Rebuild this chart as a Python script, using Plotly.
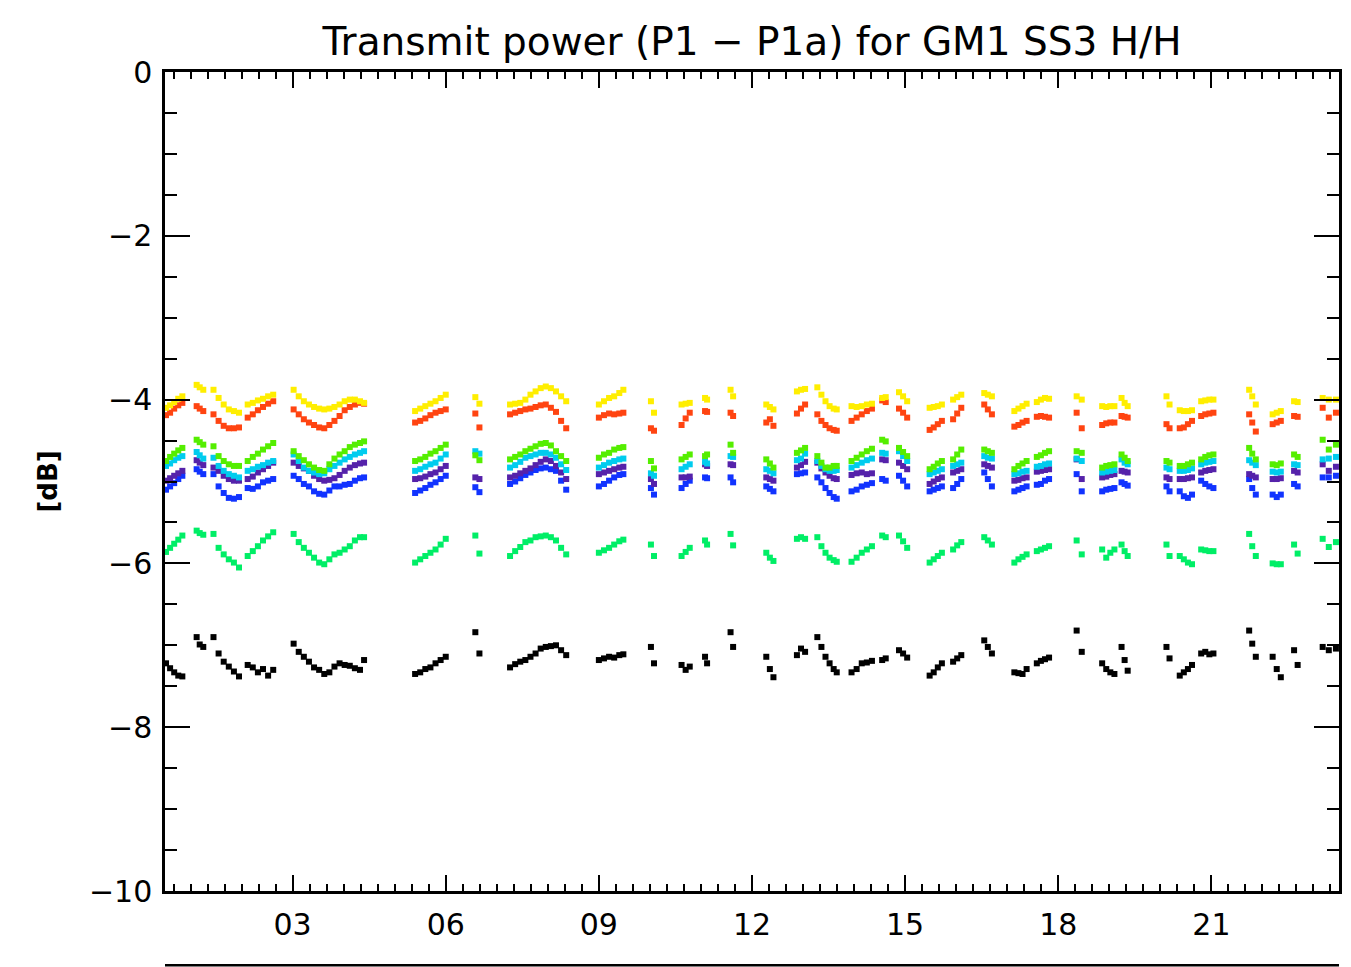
import plotly.graph_objects as go

# Time of each sample (hours of the day), grouped by pass
hours = [
    0.52, 0.60, 0.68, 0.76, 0.84,
    1.12, 1.18, 1.25,
    1.45, 1.55, 1.65, 1.75, 1.85, 1.95,
    2.12, 2.22, 2.32, 2.42, 2.52, 2.62,
    3.02, 3.12, 3.22, 3.32, 3.42, 3.52, 3.62, 3.72, 3.82, 3.92, 4.02, 4.12, 4.22, 4.32, 4.40,
    5.40, 5.50, 5.60, 5.70, 5.80, 5.90, 6.00,
    6.58, 6.66,
    7.26, 7.36, 7.46, 7.56, 7.66, 7.76, 7.86, 7.96, 8.06, 8.16, 8.26, 8.36,
    9.00, 9.10, 9.20, 9.30, 9.40, 9.48,
    10.02, 10.08,
    10.62, 10.70, 10.78,
    11.08, 11.12,
    11.58, 11.63,
    12.28, 12.35, 12.42,
    12.88, 12.96, 13.04, 13.28, 13.36, 13.44, 13.52, 13.60, 13.66,
    13.95, 14.05, 14.15, 14.25, 14.35,
    14.55, 14.62, 14.88, 14.96, 15.04,
    15.48, 15.56, 15.64, 15.72,
    15.94, 16.02, 16.10,
    16.55, 16.62, 16.70,
    17.14, 17.22, 17.30, 17.38, 17.58, 17.66, 17.74, 17.82,
    18.36, 18.46,
    18.86, 18.94, 19.02, 19.10, 19.24, 19.30, 19.36,
    20.12, 20.18, 20.38, 20.46, 20.54, 20.62, 20.80, 20.88, 20.96, 21.04,
    21.74, 21.80, 21.87,
    22.20, 22.28, 22.36,
    22.62, 22.69,
    23.18, 23.30, 23.44,
]

yellow = [
    -4.10, -4.07, -4.03, -3.99, -3.96,
    -3.82, -3.85, -3.88,
    -3.88, -3.98, -4.06, -4.12, -4.14, -4.16,
    -4.06, -4.04, -4.01, -3.99, -3.96, -3.94,
    -3.88, -3.96, -4.02, -4.06, -4.09, -4.11, -4.12, -4.11, -4.09, -4.06, -4.02, -4.00, -4.00, -4.02, -4.04,
    -4.14, -4.11, -4.08, -4.05, -4.02, -3.98, -3.94,
    -3.97, -4.05,
    -4.06, -4.05, -4.04, -4.00, -3.94, -3.90, -3.86, -3.84, -3.86, -3.90, -3.96, -4.02,
    -4.06, -4.02, -3.98, -3.96, -3.92, -3.88,
    -4.02, -4.16,
    -4.06, -4.05, -4.04,
    -3.98, -4.00,
    -3.88, -3.96,
    -4.06, -4.09, -4.12,
    -3.90, -3.88, -3.87, -3.85, -3.94, -4.02, -4.08, -4.11, -4.12,
    -4.08, -4.09, -4.08, -4.06, -4.05,
    -3.98, -3.97, -3.91, -3.96, -4.02,
    -4.10, -4.09, -4.08, -4.06,
    -4.00, -3.97, -3.94,
    -3.92, -3.94, -3.96,
    -4.14, -4.11, -4.08, -4.05, -4.03, -4.00, -3.98, -3.99,
    -3.96, -4.00,
    -4.08, -4.09, -4.08, -4.08, -3.98, -4.04, -4.08,
    -3.96, -4.06, -4.13, -4.14, -4.14, -4.13, -4.02, -4.01, -4.00, -4.00,
    -3.88, -3.96, -4.06,
    -4.18, -4.16, -4.14,
    -4.02, -4.03,
    -3.98, -4.00, -4.00,
]

orange = [
    -4.19, -4.16, -4.11, -4.07, -4.04,
    -4.08, -4.11, -4.14,
    -4.18, -4.26, -4.32, -4.35, -4.35, -4.34,
    -4.22, -4.18, -4.13, -4.09, -4.05, -4.02,
    -4.12, -4.18, -4.24, -4.28, -4.31, -4.34, -4.35, -4.31, -4.26, -4.20, -4.13, -4.09, -4.06, -4.04, -4.05,
    -4.28, -4.26, -4.23, -4.19, -4.16, -4.14, -4.12,
    -4.17, -4.34,
    -4.18, -4.16, -4.14, -4.12, -4.11, -4.09, -4.07, -4.06, -4.10, -4.15, -4.26, -4.35,
    -4.22, -4.19, -4.17, -4.18, -4.17, -4.16,
    -4.35, -4.38,
    -4.31, -4.23, -4.16,
    -4.14, -4.15,
    -4.16, -4.20,
    -4.28, -4.24, -4.32,
    -4.17, -4.11, -4.06, -4.18, -4.26, -4.31, -4.35, -4.37, -4.38,
    -4.26, -4.22, -4.18, -4.14, -4.11,
    -4.01, -4.03, -4.11, -4.16, -4.22,
    -4.37, -4.34, -4.30, -4.26,
    -4.24, -4.17, -4.10,
    -4.06, -4.12, -4.18,
    -4.33, -4.31, -4.28, -4.26, -4.21, -4.20, -4.21, -4.22,
    -4.16, -4.35,
    -4.31, -4.29, -4.28, -4.28, -4.20, -4.21, -4.22,
    -4.30, -4.35, -4.35, -4.34, -4.30, -4.26, -4.20, -4.18, -4.17, -4.16,
    -4.18, -4.28, -4.39,
    -4.30, -4.28, -4.26,
    -4.20, -4.21,
    -4.10, -4.22, -4.16,
]

lime = [
    -4.75, -4.70, -4.66, -4.62, -4.59,
    -4.49, -4.52, -4.55,
    -4.57, -4.69, -4.75, -4.79, -4.81, -4.81,
    -4.75, -4.70, -4.66, -4.61, -4.57, -4.53,
    -4.63, -4.69, -4.74, -4.79, -4.83, -4.86, -4.87, -4.79, -4.72, -4.67, -4.63, -4.58, -4.55, -4.53, -4.51,
    -4.75, -4.73, -4.70, -4.66, -4.63, -4.59, -4.55,
    -4.68, -4.74,
    -4.73, -4.70, -4.67, -4.63, -4.60, -4.57, -4.54, -4.53, -4.56, -4.63, -4.69, -4.75,
    -4.71, -4.67, -4.65, -4.61, -4.59, -4.58,
    -4.75, -4.84,
    -4.73, -4.70, -4.67,
    -4.69, -4.67,
    -4.55, -4.65,
    -4.73, -4.78, -4.83,
    -4.65, -4.62, -4.59, -4.69, -4.77, -4.83, -4.83, -4.81, -4.81,
    -4.75, -4.71, -4.67, -4.63, -4.60,
    -4.49, -4.51, -4.59, -4.64, -4.69,
    -4.85, -4.82, -4.78, -4.75,
    -4.73, -4.67, -4.61,
    -4.61, -4.63, -4.65,
    -4.85, -4.81, -4.78, -4.75, -4.70, -4.68, -4.65, -4.63,
    -4.63, -4.65,
    -4.83, -4.81, -4.80, -4.79, -4.67, -4.71, -4.75,
    -4.75, -4.77, -4.81, -4.81, -4.79, -4.77, -4.73, -4.70, -4.68, -4.67,
    -4.59, -4.66, -4.73,
    -4.79, -4.80, -4.78,
    -4.67, -4.70,
    -4.49, -4.61, -4.55,
]

cyan = [
    -4.81, -4.78, -4.74, -4.71, -4.69,
    -4.64, -4.68, -4.72,
    -4.71, -4.81, -4.87, -4.91, -4.93, -4.95,
    -4.87, -4.85, -4.82, -4.80, -4.77, -4.75,
    -4.67, -4.75, -4.83, -4.87, -4.89, -4.91, -4.90, -4.85, -4.81, -4.77, -4.73, -4.70, -4.67, -4.65, -4.63,
    -4.87, -4.85, -4.82, -4.79, -4.77, -4.72, -4.67,
    -4.63, -4.66,
    -4.83, -4.80, -4.76, -4.71, -4.69, -4.67, -4.65, -4.65, -4.67, -4.71, -4.79, -4.86,
    -4.83, -4.80, -4.77, -4.75, -4.73, -4.72,
    -4.90, -4.93,
    -4.85, -4.82, -4.79,
    -4.76, -4.78,
    -4.69, -4.70,
    -4.85, -4.87, -4.90,
    -4.74, -4.72, -4.66, -4.75, -4.81, -4.85, -4.87, -4.87, -4.86,
    -4.83, -4.80, -4.77, -4.74, -4.72,
    -4.65, -4.66, -4.63, -4.69, -4.75,
    -4.91, -4.89, -4.87, -4.85,
    -4.81, -4.79, -4.77,
    -4.69, -4.71, -4.72,
    -4.91, -4.90, -4.88, -4.87, -4.82, -4.81, -4.79, -4.78,
    -4.72, -4.75,
    -4.89, -4.88, -4.87, -4.86, -4.73, -4.77, -4.79,
    -4.83, -4.85, -4.87, -4.87, -4.86, -4.84, -4.79, -4.77, -4.76, -4.75,
    -4.74, -4.77, -4.80,
    -4.88, -4.89, -4.88,
    -4.79, -4.80,
    -4.73, -4.72, -4.70,
]

purple = [
    -4.99, -4.96, -4.93, -4.90, -4.87,
    -4.74, -4.77, -4.80,
    -4.83, -4.87, -4.93, -4.97, -4.99, -4.99,
    -4.97, -4.94, -4.89, -4.85, -4.81, -4.77,
    -4.77, -4.81, -4.84, -4.87, -4.93, -4.97, -4.99, -4.98, -4.96, -4.92, -4.87, -4.83, -4.80, -4.78, -4.77,
    -4.97, -4.96, -4.94, -4.91, -4.89, -4.85, -4.81,
    -4.95, -4.97,
    -4.95, -4.93, -4.90, -4.87, -4.84, -4.80, -4.76, -4.73, -4.75, -4.81, -4.89, -4.97,
    -4.91, -4.89, -4.87, -4.85, -4.83, -4.82,
    -4.97, -5.03,
    -4.95, -4.95, -4.94,
    -4.79, -4.81,
    -4.79, -4.80,
    -4.95, -4.97, -4.99,
    -4.83, -4.80, -4.76, -4.77, -4.84, -4.89, -4.93, -4.96, -4.97,
    -4.92, -4.90, -4.89, -4.91, -4.90,
    -4.73, -4.74, -4.77, -4.81, -4.85,
    -5.03, -5.00, -4.97, -4.95,
    -4.89, -4.87, -4.85,
    -4.79, -4.81, -4.83,
    -4.99, -4.98, -4.96, -4.95, -4.88, -4.87, -4.86, -4.85,
    -4.73, -4.97,
    -4.95, -4.94, -4.92, -4.91, -4.87, -4.88, -4.89,
    -4.95, -4.97, -4.97, -4.97, -4.96, -4.95, -4.89, -4.87, -4.86, -4.85,
    -4.91, -4.93, -4.95,
    -4.97, -4.97, -4.96,
    -4.87, -4.89,
    -4.79, -4.87, -4.82,
]

blue = [
    -5.10, -5.06, -5.02, -4.97, -4.93,
    -4.85, -4.88, -4.91,
    -4.91, -5.06, -5.14, -5.20, -5.21, -5.19,
    -5.08, -5.09, -5.06, -5.01, -4.99, -4.97,
    -4.93, -4.97, -5.03, -5.06, -5.12, -5.15, -5.16, -5.11, -5.06, -5.06, -5.04, -5.03, -4.99, -4.96, -4.95,
    -5.14, -5.11, -5.08, -5.04, -5.01, -4.97, -4.93,
    -5.07, -5.13,
    -5.03, -5.00, -4.96, -4.92, -4.89, -4.86, -4.84, -4.83, -4.85, -4.87, -4.99, -5.10,
    -5.06, -5.03, -4.99, -4.95, -4.92, -4.91,
    -5.08, -5.16,
    -5.08, -5.03, -4.99,
    -4.95, -4.96,
    -4.95, -5.01,
    -5.06, -5.09, -5.12,
    -4.91, -4.90, -4.89, -4.95, -5.01, -5.08, -5.14, -5.19, -5.21,
    -5.12, -5.10, -5.06, -5.04, -5.02,
    -4.97, -4.99, -4.93, -4.99, -5.06,
    -5.12, -5.10, -5.08, -5.06,
    -5.08, -5.03, -4.97,
    -4.89, -4.97, -5.06,
    -5.12, -5.10, -5.08, -5.06, -5.04, -5.03, -4.99, -4.97,
    -4.91, -5.12,
    -5.12, -5.10, -5.09, -5.08, -5.01, -5.03, -5.05,
    -5.06, -5.12, -5.12, -5.18, -5.20, -5.16, -4.99, -5.03, -5.06, -5.08,
    -4.97, -5.08, -5.16,
    -5.16, -5.19, -5.16,
    -5.03, -5.06,
    -4.95, -4.95, -4.93,
]

spring = [
    -5.86, -5.81, -5.76, -5.71, -5.66,
    -5.60, -5.63, -5.65,
    -5.64, -5.81, -5.89, -5.95, -5.99, -6.05,
    -5.91, -5.85, -5.79, -5.72, -5.67, -5.62,
    -5.64, -5.74, -5.81, -5.87, -5.93, -5.99, -6.01, -5.95, -5.89, -5.87, -5.83, -5.79, -5.72, -5.68, -5.68,
    -5.99, -5.95, -5.91, -5.87, -5.83, -5.77, -5.70,
    -5.66, -5.88,
    -5.91, -5.85, -5.80, -5.74, -5.72, -5.68, -5.67, -5.66, -5.68, -5.72, -5.81, -5.89,
    -5.87, -5.84, -5.81, -5.77, -5.73, -5.71,
    -5.77, -5.91,
    -5.91, -5.86, -5.81,
    -5.72, -5.77,
    -5.64, -5.78,
    -5.87, -5.93, -5.97,
    -5.70, -5.68, -5.70, -5.68, -5.79, -5.87, -5.93, -5.96, -5.98,
    -5.98, -5.93, -5.87, -5.83, -5.79,
    -5.66, -5.68, -5.66, -5.73, -5.81,
    -5.99, -5.95, -5.91, -5.87,
    -5.83, -5.78, -5.74,
    -5.68, -5.72, -5.77,
    -5.99, -5.95, -5.92, -5.89, -5.85, -5.83, -5.81, -5.79,
    -5.72, -5.89,
    -5.83, -5.93, -5.87, -5.83, -5.77, -5.85, -5.91,
    -5.77, -5.91, -5.91, -5.95, -5.99, -6.01, -5.83, -5.84, -5.85, -5.85,
    -5.64, -5.79, -5.91,
    -6.00, -6.01, -6.01,
    -5.77, -5.88,
    -5.70, -5.80, -5.74,
]

black = [
    -7.22, -7.28, -7.33, -7.37, -7.38,
    -6.90, -6.99, -7.02,
    -6.90, -7.10, -7.20, -7.26, -7.32, -7.38,
    -7.24, -7.27, -7.33, -7.29, -7.37, -7.30,
    -6.98, -7.08, -7.14, -7.20, -7.27, -7.30, -7.35, -7.33, -7.26, -7.22, -7.24, -7.25, -7.28, -7.30, -7.18,
    -7.35, -7.33, -7.29, -7.27, -7.22, -7.18, -7.14,
    -6.84, -7.10,
    -7.27, -7.23, -7.20, -7.18, -7.14, -7.10, -7.04, -7.02, -7.01, -7.00, -7.06, -7.12,
    -7.18, -7.16, -7.14, -7.15, -7.12, -7.11,
    -7.02, -7.22,
    -7.24, -7.30, -7.26,
    -7.14, -7.22,
    -6.84, -7.02,
    -7.14, -7.29, -7.39,
    -7.12, -7.04, -7.08, -6.90, -7.02, -7.14, -7.22, -7.29, -7.33,
    -7.33, -7.29, -7.22, -7.21, -7.19,
    -7.18, -7.16, -7.06, -7.10, -7.15,
    -7.37, -7.33, -7.27, -7.22,
    -7.20, -7.16, -7.12,
    -6.94, -7.02, -7.10,
    -7.33, -7.34, -7.35, -7.29, -7.22, -7.19, -7.17, -7.15,
    -6.82, -7.08,
    -7.22, -7.29, -7.33, -7.35, -7.02, -7.18, -7.31,
    -7.02, -7.16, -7.37, -7.33, -7.29, -7.24, -7.10, -7.08, -7.11, -7.10,
    -6.82, -6.98, -7.14,
    -7.14, -7.29, -7.39,
    -7.06, -7.24,
    -7.02, -7.06, -7.04,
]

series_names = ["black", "spring", "blue", "purple", "cyan", "lime", "orange", "yellow"]
series_values = [black, spring, blue, purple, cyan, lime, orange, yellow]
series_colors = ["#000000", "#00ee66", "#1133ff", "#5522aa", "#00ccee", "#55ee00", "#ff4411", "#ffee00"]

x_tick_vals = [3, 6, 9, 12, 15, 18, 21]
x_tick_text = ["03", "06", "09", "12", "15", "18", "21"]
y_tick_vals = [0, -2, -4, -6, -8, -10]
y_tick_text = ["0", "\u22122", "\u22124", "\u22126", "\u22128", "\u221210"]

fig = go.Figure()

for name, values, color in zip(series_names, series_values, series_colors):
    fig.add_trace(go.Scatter(
        x=hours, y=values, mode="markers", name=name,
        marker=dict(symbol="square", size=6, color=color, line=dict(width=0)),
        showlegend=False,
    ))

font_family = "DejaVu Sans"

fig.update_layout(
    width=1351, height=967,
    margin=dict(l=157, r=20, t=64, b=84),
    paper_bgcolor="white", plot_bgcolor="white",
    font=dict(family=font_family, color="black", size=30),
    title=dict(
        text="Transmit power (P1 \u2212 P1a) for GM1 SS3 H/H",
        x=0.5, xref="paper", xanchor="center",
        y=1 - 33 / 967, yref="container", yanchor="middle",
        font=dict(family=font_family, size=39, color="black"),
    ),
)

fig.update_xaxes(
    range=[0.5, 23.5], showgrid=False, zeroline=False,
    showline=True, linecolor="black", linewidth=2.5, mirror="ticks",
    ticks="inside", ticklen=16, tickwidth=2, tickcolor="black",
    tickvals=x_tick_vals, ticktext=x_tick_text,
    tickfont=dict(size=30), ticklabelstandoff=5,
    minor=dict(ticks="inside", ticklen=7, tickwidth=2, tickcolor="black",
               dtick=1 / 3, tick0=0, showgrid=False),
)

fig.update_yaxes(
    range=[-10, 0], showgrid=False, zeroline=False,
    showline=True, linecolor="black", linewidth=2.5, mirror="ticks",
    ticks="inside", ticklen=25, tickwidth=2, tickcolor="black",
    tickvals=y_tick_vals, ticktext=y_tick_text,
    tickfont=dict(size=30), ticklabelstandoff=4,
    title=dict(text="<b>[dB]</b>", font=dict(size=26), standoff=24),
    minor=dict(ticks="inside", ticklen=12, tickwidth=2, tickcolor="black",
               dtick=0.5, tick0=0, showgrid=False),
)

# Line below the tick labels
fig.add_shape(
    type="line", xref="paper", yref="paper",
    x0=0, x1=1, y0=-0.0906, y1=-0.0906,
    line=dict(color="black", width=2.5),
)

fig.write_html("out.html")
